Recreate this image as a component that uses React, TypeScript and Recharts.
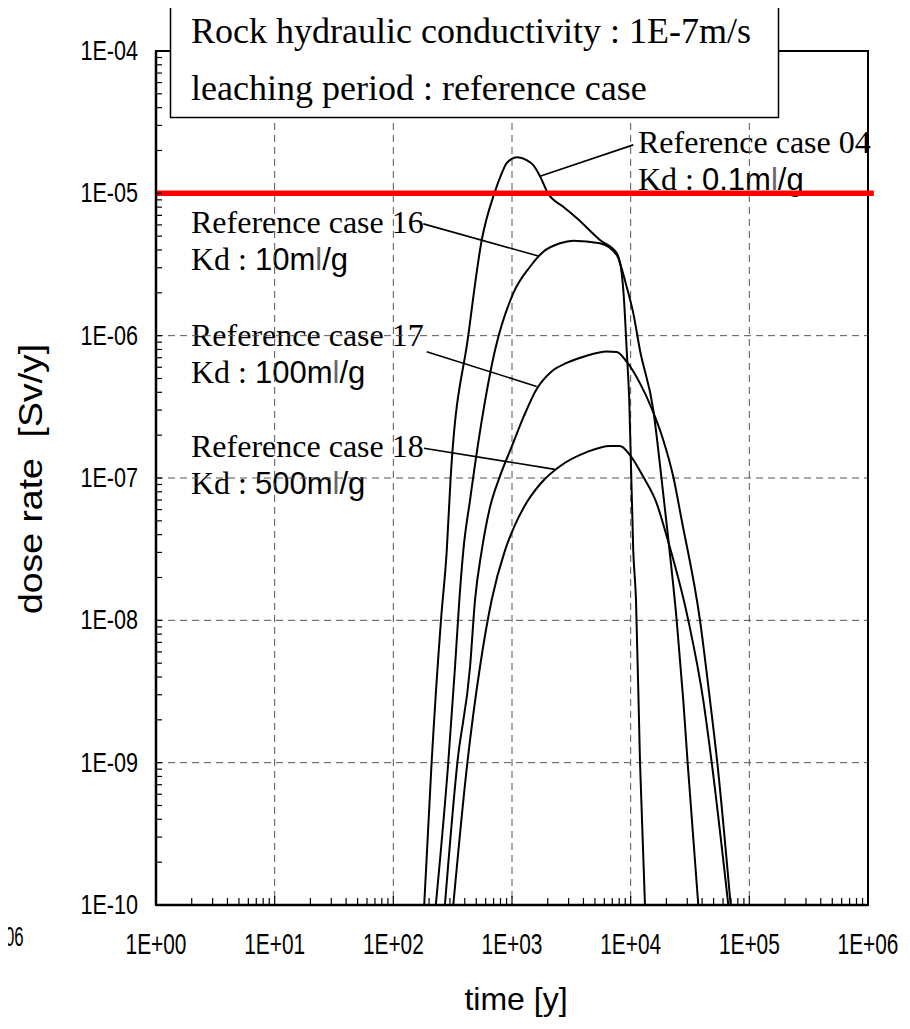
import React from 'react';
import { LineChart, Line, XAxis, YAxis, CartesianGrid, ReferenceLine, ReferenceArea } from 'recharts';

const WIDTH = 910;
const HEIGHT = 1029;

// axis decades and their labels
const xTickLabels = ['1E+00', '1E+01', '1E+02', '1E+03', '1E+04', '1E+05', '1E+06'];
const yTickLabels = ['1E-10', '1E-09', '1E-08', '1E-07', '1E-06', '1E-05', '1E-04'];
const xGrid = [1e1, 1e2, 1e3, 1e4, 1e5];
const yGrid = [1e-9, 1e-8, 1e-7, 1e-6, 1e-5];

// [time (y), dose rate (Sv/y)]
const case04: [number, number][] = [
  [182, 1e-10], [210, 9.9e-10], [252, 1.0e-8], [282, 3.1e-8], [304, 1.0e-7], [428, 1.0e-6],
  [556, 4.7e-6], [710, 1.0e-5], [819, 1.38e-5], [902, 1.63e-5], [1109, 1.79e-5], [1330, 1.71e-5],
  [1511, 1.58e-5], [1722, 1.32e-5], [2009, 1.0e-5], [2704, 8.05e-6], [3508, 6.7e-6], [5510, 4.7e-6],
  [7620, 3.81e-6], [8400, 2.75e-6], [8790, 1.78e-6], [9260, 7.9e-7], [9730, 3.53e-7], [10510, 3.1e-8],
  [11090, 1.39e-8], [11990, 1.0e-9], [13200, 1e-10],
];
const case16: [number, number][] = [
  [228, 1e-10], [290, 9.9e-10], [331, 4.7e-9], [360, 1.39e-8], [389, 3.1e-8], [443, 7e-8],
  [548, 2.35e-7], [719, 7.9e-7], [1026, 1.99e-6], [1418, 3.05e-6], [1836, 3.89e-6],
  [2536, 4.46e-6], [3282, 4.65e-6], [5510, 4.46e-6], [7620, 3.69e-6], [9250, 2.21e-6], [10520, 1.44e-6],
  [11980, 7.9e-7], [15520, 3.0e-7], [18250, 9.7e-8], [20360, 4.3e-8], [24420, 1.0e-8], [27750, 2.75e-9],
  [30200, 1.0e-9], [37150, 1e-10],
];
const case17: [number, number][] = [
  [272, 1e-10], [346, 9.9e-10], [443, 4.7e-9], [488, 1.39e-8], [556, 3.1e-8], [653, 6.25e-8],
  [792, 1.03e-7], [1000, 1.68e-7], [1262, 2.73e-7], [1615, 4.22e-7], [2132, 5.56e-7], [2891, 6.43e-7],
  [4200, 7.2e-7], [6280, 7.74e-7], [7620, 7.68e-7], [9250, 6.56e-7], [11990, 4.62e-7], [15030, 3.09e-7],
  [18820, 1.85e-7], [22870, 1.02e-7], [26900, 5.07e-8], [38400, 1.0e-8], [46600, 2.75e-9], [53700, 1.0e-9],
  [69600, 1e-10],
];
const case18: [number, number][] = [
  [320, 1e-10], [420, 9.9e-10], [537, 4.7e-9], [674, 1.39e-8], [873, 3.1e-8], [1060, 4.68e-8],
  [1337, 6.78e-8], [1824, 9.53e-8], [2536, 1.21e-7], [4260, 1.52e-7], [6700, 1.68e-7], [8130, 1.68e-7],
  [9870, 1.45e-7], [12770, 1.02e-7], [16570, 6.64e-8], [19450, 4.3e-8], [30600, 1.0e-8], [40900, 2.75e-9],
  [48200, 1.0e-9], [66500, 1e-10],
];

// leader lines from each label to its curve
const leaders: [number, number][][] = [
  [[1722, 1.32e-5], [10520, 2.19e-5]],
  [[179, 6.1e-6], [1666, 3.63e-6]],
  [[191, 7.7e-7], [1615, 4.4e-7]],
  [[181, 1.62e-7], [2302, 1.15e-7]],
];

const doseLimit = 1e-5;

const caseLabels = [
  { title: 'Reference case 04', kd: '0.1', x: 638, y: 153 },
  { title: 'Reference case 16', kd: '10', x: 191, y: 233 },
  { title: 'Reference case 17', kd: '100', x: 191, y: 346 },
  { title: 'Reference case 18', kd: '500', x: 191, y: 457 },
];

const SANS = 'Liberation Sans, Arial, sans-serif';
const SERIF = 'Liberation Serif, Times New Roman, serif';

const logTicks = (from: number, to: number) => {
  const out: number[] = [];
  for (let d = from; d < to; d++) for (let m = 1; m < 10; m++) out.push(m * Math.pow(10, d));
  out.push(Math.pow(10, to));
  return out;
};
const xTicks = logTicks(0, 6);
const yTicks = logTicks(-10, -4);

const toPoints = (rows: [number, number][]) => rows.map(([t, v]) => ({ t, v }));

const decadeOf = (v: number) => {
  const lg = Math.log10(v);
  const d = Math.round(lg);
  return { d, major: Math.abs(lg - d) < 1e-6 };
};

const XTick = (props: any) => {
  const { x, y, payload } = props;
  const { d, major } = decadeOf(payload.value);
  const edge = major && (d === 0 || d === 6);
  return (
    <g>
      {!edge && <line x1={x} y1={y} x2={x} y2={y - (major ? 9 : 7)} stroke="#000" strokeWidth={1.2} />}
      {major && (
        <text transform={`translate(${x},${y + 49}) scale(0.72,1)`} textAnchor="middle"
          fontFamily={SANS} fontSize={29} fill="#000">
          {xTickLabels[d]}
        </text>
      )}
    </g>
  );
};

const YTick = (props: any) => {
  const { x, y, payload } = props;
  const { d, major } = decadeOf(payload.value);
  const edge = major && (d === -10 || d === -4);
  return (
    <g>
      {!edge && <line x1={x} y1={y} x2={x + 6} y2={y} stroke="#000" strokeWidth={1.2} />}
      {major && (
        <text transform={`translate(${x - 18},${y + 9}) scale(0.8,1)`} textAnchor="end"
          fontFamily={SANS} fontSize={27} fill="#000">
          {yTickLabels[d + 10]}
        </text>
      )}
    </g>
  );
};

const layer: React.CSSProperties = { position: 'absolute', left: 0, top: 0 };

export default function App() {
  const series = [case04, case16, case17, case18];
  return (
    <div style={{ position: 'relative', width: WIDTH, height: HEIGHT, margin: -8, background: '#fff' }}>
      {/* annotation text sits under the chart so the grid and the limit line run over it */}
      <svg width={WIDTH} height={HEIGHT} style={layer}>
        {caseLabels.map((c) => (
          <g key={c.title}>
            <text x={c.x} y={c.y} fontFamily={SERIF} fontSize={32} fill="#000">{c.title}</text>
            <text x={c.x} y={c.y + 37} fontFamily={SERIF} fontSize={32} fill="#000" style={{ whiteSpace: 'pre' }}>Kd : </text>
            <text x={c.x + 64} y={c.y + 37} fontFamily={SANS} fontSize={31} fill="#000">
              {c.kd}m<tspan fill="#666">l</tspan>/g
            </text>
          </g>
        ))}
        {/* stray tail of an axis label at the page edge */}
        <text transform="translate(5,946) scale(0.6,1)" fontFamily={SANS} fontSize={28}>06</text>
        <text transform="translate(42,479) rotate(-90) scale(1.1,1)" textAnchor="middle" fontFamily={SANS}
          fontSize={34} style={{ whiteSpace: 'pre' }}>dose rate  [Sv/y]</text>
        <text x={516} y={1010} textAnchor="middle" fontFamily={SANS} fontSize={32}>time [y]</text>
      </svg>

      <div style={layer}>
        <LineChart width={WIDTH} height={HEIGHT} margin={{ top: 51, right: 42, bottom: 64, left: 96 }}>
          <CartesianGrid stroke="#555" strokeDasharray="7 5" horizontalValues={yGrid} verticalValues={xGrid} />
          <XAxis type="number" dataKey="t" scale="log" domain={[1, 1e6]} allowDataOverflow ticks={xTicks}
            interval={0} height={60} tickSize={0} tickMargin={0} tickLine={false}
            axisLine={{ stroke: '#000', strokeWidth: 2.5 }} tick={XTick} />
          <YAxis type="number" dataKey="v" scale="log" domain={[1e-10, 1e-4]} allowDataOverflow ticks={yTicks}
            interval={0} width={60} tickSize={0} tickMargin={0} tickLine={false}
            axisLine={{ stroke: '#000', strokeWidth: 2.5 }} tick={YTick} />
          <ReferenceArea x1={1} x2={1e6} y1={1e-10} y2={1e-4} fill="none" fillOpacity={0}
            stroke="#000" strokeWidth={2} />
          {series.map((s, i) => (
            <Line key={i} data={toPoints(s)} dataKey="v" type="monotone" stroke="#000" strokeWidth={2}
              dot={false} activeDot={false} isAnimationActive={false} />
          ))}
          {leaders.map((seg, i) => (
            <ReferenceLine key={i} segment={seg.map(([x, y]) => ({ x, y }))} stroke="#000" strokeWidth={1.6}
              ifOverflow="visible" />
          ))}
          <ReferenceLine segment={[{ x: 1, y: doseLimit }, { x: 1.12e6, y: doseLimit }]} stroke="#ff0000"
            strokeWidth={5.5} ifOverflow="visible" />
        </LineChart>
      </div>

      <svg width={WIDTH} height={HEIGHT} style={{ ...layer, pointerEvents: 'none' }}>
        <rect x={170.5} y={1} width={608} height={116.5} fill="#fff" stroke="#000" strokeWidth={1.5} />
        <text x={191} y={43} fontFamily={SERIF} fontSize={36}>Rock hydraulic conductivity : 1E-7m/s</text>
        <text x={191} y={100} fontFamily={SERIF} fontSize={36}>leaching period : reference case</text>
      </svg>
    </div>
  );
}
